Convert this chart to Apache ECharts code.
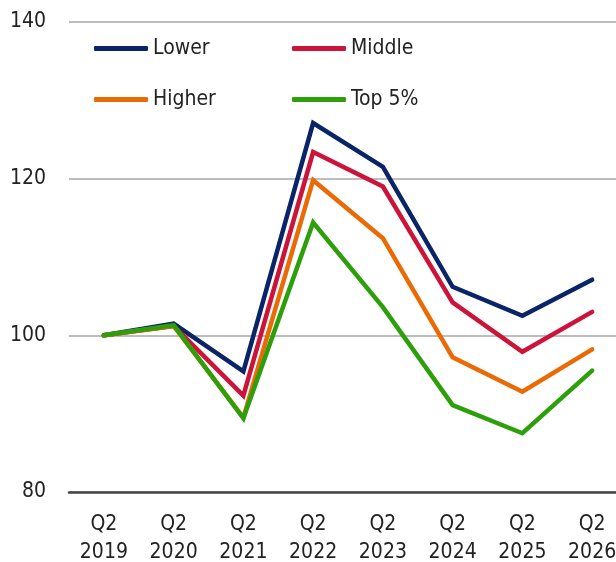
<!DOCTYPE html>
<html>
<head>
<meta charset="utf-8">
<script src="https://cdn.jsdelivr.net/npm/echarts@6/dist/echarts.min.js"></script>
<style>
    html, body { margin: 0; padding: 0; background: #fff; }
    #chart { width: 616px; height: 562px; }
</style>
</head>
<body>
<div id="chart"></div>
<script>
    // categories and series
    var quarters = ['Q2\n2019', 'Q2\n2020', 'Q2\n2021', 'Q2\n2022', 'Q2\n2023', 'Q2\n2024', 'Q2\n2025', 'Q2\n2026'];
    var lower = [100, 101.5, 95.4, 127.1, 121.5, 106.2, 102.5, 107.1];
    var middle = [100, 101.2, 92.3, 123.4, 119.0, 104.2, 97.9, 103.0];
    var higher = [100, 101.2, 89.5, 119.8, 112.4, 97.2, 92.8, 98.2];
    var top5 = [100, 101.3, 89.4, 114.4, 103.6, 91.1, 87.5, 95.5];

    var font = '"Liberation Sans Narrow", "DejaVu Sans Condensed", sans-serif';
    var colors = {
        'Lower': '#0a2468',
        'Middle': '#cc1339',
        'Higher': '#ea6b05',
        'Top 5%': '#2d9f0a'
    };

    function legendAt(name, left, top) {
        return {
            data: [name],
            left: left,
            top: top,
            icon: 'roundRect',
            itemWidth: 54,
            itemHeight: 5,
            itemGap: 0,
            textStyle: { fontFamily: font, fontSize: 21, color: '#222' }
        };
    }

    function lineSeries(name, values) {
        return {
            name: name,
            type: 'line',
            data: values,
            symbol: 'none',
            color: colors[name],
            lineStyle: { width: 4.5, cap: 'round', join: 'miter', color: colors[name] },
            emphasis: { disabled: true }
        };
    }

    var chart = echarts.init(document.getElementById('chart'));
    chart.setOption({
        animation: false,
        textStyle: { fontFamily: font },
        legend: [
            legendAt('Lower', 89, 33),
            legendAt('Middle', 287, 33),
            legendAt('Higher', 89, 84),
            legendAt('Top 5%', 287, 84)
        ],
        grid: { left: 69, right: -11, top: 22, bottom: 70, outerBoundsMode: 'none', containLabel: false },
        xAxis: {
            type: 'category',
            data: quarters,
            boundaryGap: true,
            axisLine: { lineStyle: { color: '#444', width: 2.5 } },
            axisTick: { show: false },
            axisLabel: {
                fontFamily: font,
                fontSize: 21,
                color: '#222',
                lineHeight: 28,
                margin: 19,
                interval: 0
            }
        },
        yAxis: {
            type: 'value',
            min: 80,
            max: 140,
            interval: 20,
            axisLine: { show: false },
            axisTick: { show: false },
            splitLine: { lineStyle: { color: '#bdbdbd', width: 2 } },
            axisLabel: {
                fontFamily: font,
                fontSize: 21,
                color: '#222',
                margin: 23
            }
        },
        series: [
            lineSeries('Lower', lower),
            lineSeries('Middle', middle),
            lineSeries('Higher', higher),
            lineSeries('Top 5%', top5)
        ]
    });
</script>
</body>
</html>
